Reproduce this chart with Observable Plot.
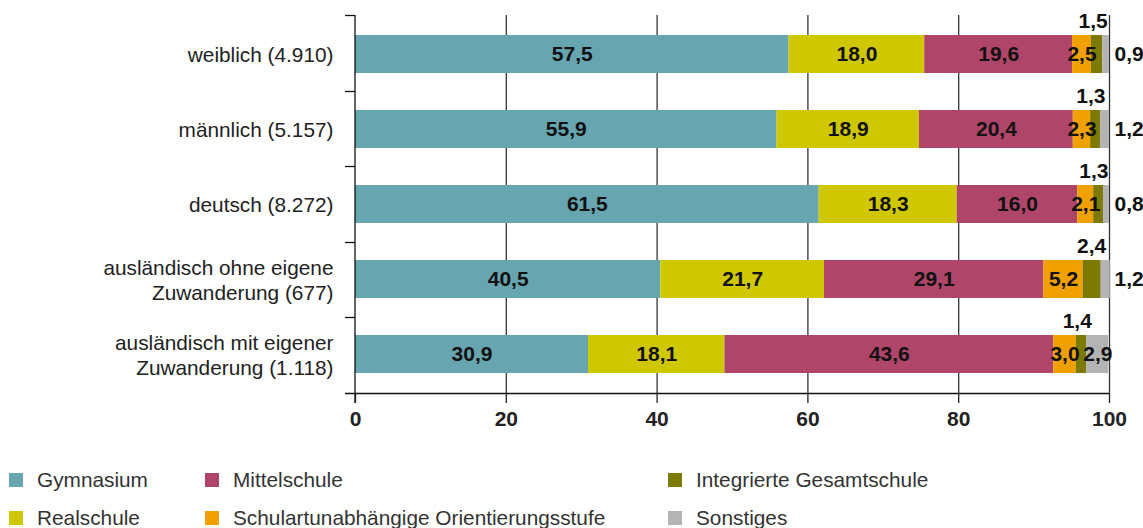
<!DOCTYPE html>
<html>
<head>
<meta charset="utf-8">
<script src="https://cdn.jsdelivr.net/npm/d3@7"></script>
<script src="https://cdn.jsdelivr.net/npm/@observablehq/plot@0.6"></script>
<style>
  html, body { margin: 0; padding: 0; background: #fff; }
  #wrap { position: relative; width: 1143px; height: 528px; font-family: "Liberation Sans", Arial, sans-serif; }
  .leg { position: absolute; display: flex; align-items: center; font-size: 20.8px; color: #333; white-space: nowrap; }
  .leg span.sw { display: inline-block; width: 14px; height: 14px; margin-right: 14px; }
</style>
</head>
<body>
<div id="wrap"><div id="chart"></div><div id="legend"></div></div>
<script>
const groups = [
  "weiblich (4.910)",
  "männlich (5.157)",
  "deutsch (8.272)",
  "ausländisch ohne eigene\nZuwanderung (677)",
  "ausländisch mit eigener\nZuwanderung (1.118)"
];
const types = [
  "Gymnasium",
  "Realschule",
  "Mittelschule",
  "Schulartunabhängige Orientierungsstufe",
  "Integrierte Gesamtschule",
  "Sonstiges"
];
const gymnasium     = [57.5, 55.9, 61.5, 40.5, 30.9];
const realschule    = [18.0, 18.9, 18.3, 21.7, 18.1];
const mittelschule  = [19.6, 20.4, 16.0, 29.1, 43.6];
const orientierung  = [2.5, 2.3, 2.1, 5.2, 3.0];
const gesamtschule  = [1.5, 1.3, 1.3, 2.4, 1.4];
const sonstiges     = [0.9, 1.2, 0.8, 1.2, 2.9];
const colors = ["#67a5b0", "#cfc800", "#b0456a", "#f0a000", "#7c7a00", "#b4b4b4"];
const xTicks = [0, 20, 40, 60, 80, 100];
const legendCols = [[0, 1], [2, 3], [4, 5]];

const series = [gymnasium, realschule, mittelschule, orientierung, gesamtschule, sonstiges];
const fmt = v => d3.format(".1f")(v).replace(".", ",");

const segments = [];
groups.forEach((g, i) => {
  let acc = 0;
  types.forEach((t, j) => {
    const v = series[j][i];
    segments.push({group: g, type: t, j, value: v, x1: acc, x2: acc + v});
    acc += v;
  });
});

// label placement
const inside = segments.filter(d => d.j <= 3 || (d.j === 5 && d.value >= 2.5));
const above = segments.filter(d => d.j === 4);
const outside = segments.filter(d => d.j === 5 && d.value < 2.5);

function axisLines(index, scales, values, dims) {
  const x0 = scales.x(0), x100 = scales.x(100);
  const top = dims.marginTop, bottom = dims.height - dims.marginBottom;
  const n = groups.length;
  const g = d3.create("svg:g").attr("stroke", "#111").attr("stroke-width", 1.3);
  for (let i = 0; i <= n; i++) {
    const yy = Math.round(top + (bottom - top) * i / n) + 0.5;
    g.append("line").attr("x1", x0 - 10).attr("x2", i === n ? x100 : x0).attr("y1", yy).attr("y2", yy);
  }
  g.append("line").attr("x1", x0).attr("x2", x0).attr("y1", top).attr("y2", bottom + 10);
  return g.node();
}

const labelStyle = {fontSize: 21, fontWeight: "bold", fill: "#111", text: d => fmt(d.value), y: "group"};

const chart = Plot.plot({
  width: 1143,
  height: 450,
  marginLeft: 355,
  marginRight: 34,
  marginTop: 15,
  marginBottom: 57,
  style: {fontFamily: "'Liberation Sans', Arial, sans-serif", fontSize: "21px", color: "#222", overflow: "visible"},
  x: {domain: [0, 100]},
  y: {domain: groups, paddingInner: 0.5, paddingOuter: 0.25},
  color: {domain: types, range: colors},
  marks: [
    Plot.ruleX(xTicks.filter(t => t > 0), {stroke: "#333", strokeWidth: 1.3}),
    Plot.barX(segments, {x1: "x1", x2: "x2", y: "group", fill: "type"}),
    axisLines,
    Plot.axisX({ticks: xTicks, tickSize: 10, tickPadding: 8, fontWeight: "bold", fontSize: 21, label: null, stroke: "#222", strokeWidth: 1.3}),
    Plot.axisY({tickSize: 0, tickPadding: 22, fontSize: 20.8, lineHeight: 1.18, label: null, fill: "#222"}),
    Plot.text(inside, {...labelStyle, x: d => (d.x1 + d.x2) / 2}),
    Plot.text(above, {...labelStyle, x: "x2", textAnchor: "end", dx: 5, dy: -33}),
    Plot.text(outside, {...labelStyle, x: () => 100, textAnchor: "start", dx: 5})
  ]
});
document.getElementById("chart").appendChild(chart);

// legend
const legend = document.getElementById("legend");
const colLeft = [9, 205, 668];
const rowTop = [470, 508];
legendCols.forEach((col, c) => {
  col.forEach((j, r) => {
    const el = document.createElement("div");
    el.className = "leg";
    el.style.left = colLeft[c] + "px";
    el.style.top = rowTop[r] + "px";
    el.style.height = "20px";
    el.innerHTML = `<span class="sw" style="background:${colors[j]}"></span><span>${types[j]}</span>`;
    legend.appendChild(el);
  });
});
</script>
</body>
</html>
